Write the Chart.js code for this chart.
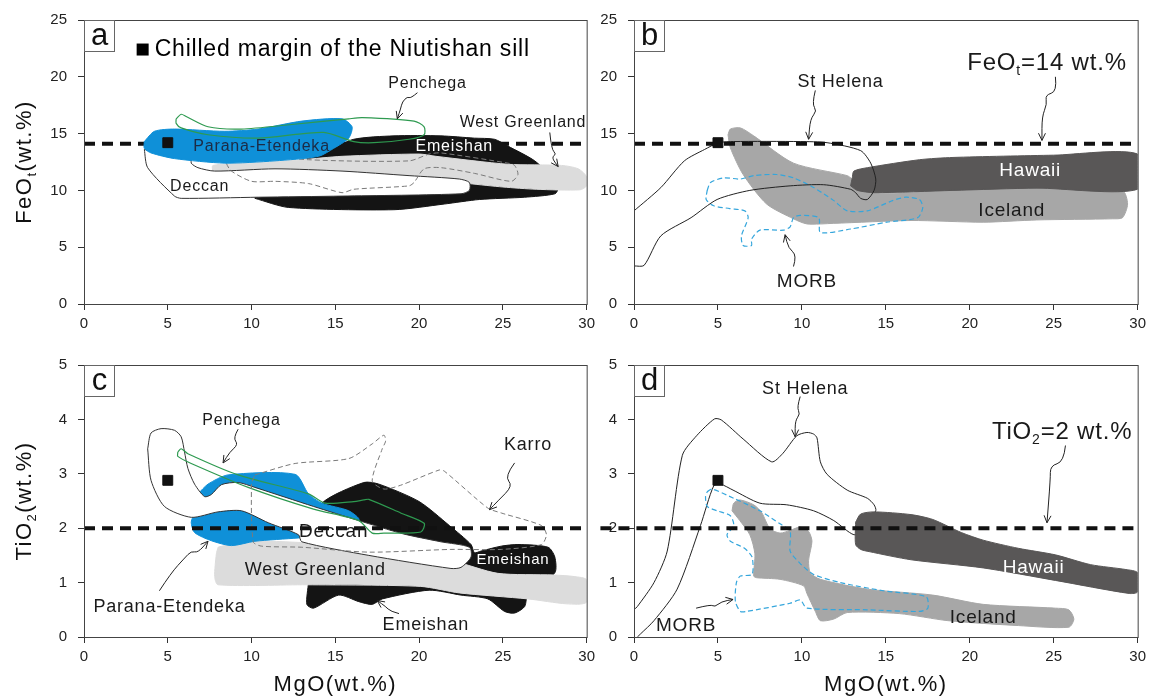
<!DOCTYPE html>
<html>
<head>
<meta charset="utf-8">
<script src="https://cdn.jsdelivr.net/npm/chart.js@4.4.0/dist/chart.umd.min.js"></script>
<style>
  html, body { margin: 0; padding: 0; background: #fff; }
  #wrap { position: relative; width: 1151px; height: 699px; overflow: hidden; }
  canvas { position: absolute; }
</style>
</head>
<body>
<div id="wrap">
  <canvas id="pa" width="600" height="345" style="left:0;top:0"></canvas>
  <canvas id="pb" width="551" height="345" style="left:600px;top:0"></canvas>
  <canvas id="pc" width="600" height="354" style="left:0;top:345px"></canvas>
  <canvas id="pd" width="551" height="354" style="left:600px;top:345px"></canvas>
</div>
<script>
// ---- panel a : FeOt vs MgO ----
const aEmeishan = [[10.2,9.3],[12.2,8.5],[18.5,8.3],[21.5,8.8],[23.6,9.2],[26.3,9.4],[28.1,9.7],[28.3,10.2],[28,11],[26.9,12.6],[25.3,13.9],[24.5,14.5],[23.3,14.6],[21.3,14.8],[18.5,14.8],[16.1,14.5],[14.6,13.5],[12,12],[10.5,10.5],[10.2,9.3]];
const aWestGreenland = [[7.7,11.5],[7.7,12.2],[10,12.4],[13,12.7],[15.4,13.0],[20,13.2],[21,13.0],[25.3,12.3],[28.5,12.2],[29.5,11.9],[30,11.2],[30,10.4],[29.6,10.05],[27,10.1],[25,10.3],[23,10.6],[22,10.8],[15,11.3],[11,11.5],[7.7,11.5]];
const aDeccan = [[3.6,13.6],[3.8,12.0],[5.4,9.5],[5.8,9.3],[10.4,9.4],[15.4,9.5],[22.5,9.7],[23,10.0],[23,10.7],[22.4,11.0],[19.4,11.3],[15.4,11.7],[11.4,11.9],[7.8,11.7],[6.8,12.0],[6.4,12.4],[6.4,13.0],[5,13.3],[3.6,13.6]];
const aKarroo = [[8.6,13.0],[9.0,13.3],[9.4,13.3],[13.4,12.7],[19.4,12.6],[20.6,13.2],[21.3,13.3],[25.3,12.4],[25.7,12.2],[25.9,11.4],[25.5,10.8],[23.3,11.5],[21.3,12.0],[20.3,11.9],[19.7,10.7],[19.4,10.4],[16.1,10.1],[15.4,9.8],[13.4,10.6],[11.4,10.8],[10,10.8],[8.8,11.7],[8.5,12.4],[8.6,13.0]];
const aParana = [[3.6,14.3],[4.2,15.2],[5.4,15.4],[8.4,15.2],[10.4,15.4],[13,16.1],[15.4,16.3],[16,15.6],[15.8,14.6],[14.9,13.7],[14,13.0],[11.4,12.6],[8.4,12.4],[5.4,12.8],[4.0,13.3],[3.6,13.7],[3.6,14.3]];
const aPenchega = [[5.5,16.3],[5.8,16.7],[6.1,16.5],[7.4,15.6],[9.4,15.4],[12.4,15.8],[15.8,16.3],[16.6,16.4],[19.7,16.1],[20.3,15.6],[20.3,14.9],[19.4,14.5],[17.3,14.2],[16.1,14.3],[14.3,15.1],[10.4,14.6],[7.4,14.9],[5.8,15.5],[5.5,15.9],[5.5,16.3]];

// ---- panel b : FeOt vs MgO (oceanic) ----
const bIceland = [[5.6,14.9],[5.74,15.4],[6.34,15.5],[7.13,14.8],[9.5,12.4],[12.7,11.3],[13,11],[14.4,9.8],[18,10],[22.9,10.4],[25,10.2],[29.1,9.96],[29.4,8.8],[29.1,7.6],[28.5,7.5],[24,7.4],[20.8,7.2],[16.5,7.35],[11.9,7.1],[10.3,7.05],[9.5,7.5],[7.9,8.8],[6.5,11.4],[5.74,13.75],[5.6,14.9]];
const bHawaii = [[12.9,10.4],[13.0,11.1],[13.1,11.7],[13.9,12.0],[17.0,12.7],[19,12.9],[25,13.1],[30,13.2],[30,10.1],[24,10.2],[19,10.0],[14.3,9.8],[13.3,10],[12.9,10.4]];
const bMorb = [[4.36,10.0],[4.56,10.7],[5.35,11.1],[6.34,11.0],[7.13,11.3],[8.5,11.4],[9.5,11.1],[10.7,10.25],[11.9,9.1],[12.7,8.2],[13.9,8.2],[15.4,9.1],[16.2,9.4],[17.0,9.2],[17.2,8.5],[16.9,7.6],[15.05,7.2],[12.9,6.6],[11.1,6.3],[11.0,7.6],[9.9,7.8],[9.5,7.6],[9.3,6.8],[8.9,6.5],[7.5,6.5],[7.0,5.7],[7.0,5.15],[6.5,5.15],[6.4,6.0],[6.8,7.6],[6.6,8.2],[5.7,8.4],[4.75,8.65],[4.3,9.2],[4.36,10.0]];
const bStHelena = [[0,8.2],[1.6,10.25],[3.0,12.6],[4.2,13.6],[5.05,14.2],[5.94,14.3],[9.9,14.3],[11.5,14.2],[13.5,13.5],[14.1,12.4],[14.4,11.0],[14.3,10.0],[13.9,9.2],[13.5,9.3],[13.2,9.8],[12.9,10.1],[11.3,10.5],[9.3,10.4],[6.9,10.0],[4.95,9.2],[3.4,7.6],[1.6,6.0],[0.6,3.4],[0,3.35]];

// ---- panel c : TiO2 vs MgO ----
const cEmeishan = [[13.4,1.0],[13.3,0.6],[13.7,0.53],[15.2,0.77],[16.4,0.65],[17.2,0.6],[17.8,0.7],[20.6,0.86],[22.5,0.77],[24.1,0.7],[25.1,0.47],[25.7,0.44],[26.3,0.56],[26.5,0.8],[28.1,1.18],[28.1,1.47],[27.7,1.65],[25.9,1.7],[24.9,1.67],[23.7,1.58],[23.3,1.55],[23.1,1.7],[21.8,2.05],[20,2.49],[17.6,2.81],[16.7,2.84],[14.2,2.46],[14,2.0],[13.5,1.5],[13.4,1.0]];
const cWestGreenland = [[8.0,1.65],[9.2,1.74],[10.1,1.77],[14,1.72],[17.9,1.64],[22,1.4],[24.7,1.17],[28,1.14],[29.3,1.11],[30,1.05],[30,0.64],[28.8,0.61],[26.5,0.7],[22.4,0.81],[20.1,0.93],[13.3,0.96],[8,0.96],[7.8,1.11],[7.9,1.53],[8.0,1.65]];
const cParana = [[6.8,2.63],[7.4,2.81],[8.6,2.98],[12.6,2.99],[13.4,2.63],[14.2,2.46],[15.8,2.32],[16.4,2.15],[14,1.85],[12.8,1.82],[10.2,1.76],[8.8,1.68],[7.6,1.77],[6.6,1.92],[6.4,2.11],[6.6,2.3],[6.6,2.5],[6.8,2.63]];
const cDeccan = [[3.8,3.46],[4.0,3.75],[4.6,3.83],[5.4,3.8],[5.8,3.68],[6.0,3.4],[6.2,3.1],[6.6,2.81],[7.2,2.58],[7.6,2.62],[8.2,2.8],[9.2,2.84],[10.2,2.75],[13.7,2.4],[16.4,2.14],[19,1.9],[21.3,1.75],[23,1.65],[23.1,1.47],[22.5,1.28],[21.9,1.26],[17,1.5],[13,1.75],[12.8,1.88],[11,2.1],[9.4,2.32],[8,2.3],[6.4,2.2],[4.8,2.4],[4.0,2.88],[3.8,3.46]];
const cPenchega = [[5.6,3.4],[5.8,3.46],[6.2,3.37],[9.2,2.98],[13.4,2.63],[14.4,2.46],[16.1,2.49],[16.7,2.52],[17,2.53],[18.9,2.28],[20.3,2.09],[20.1,1.93],[17.9,1.91],[17.2,1.91],[16.4,2.14],[13.7,2.35],[9.8,2.75],[6.4,3.19],[5.6,3.32],[5.6,3.4]];
const cKarroo = [[10.2,2.98],[12.6,3.19],[15.8,3.28],[17.2,3.55],[17.9,3.71],[18.0,3.6],[17.8,3.46],[17.2,2.87],[17.9,2.72],[18.9,2.79],[21.2,3.07],[21.5,3.05],[24.1,2.37],[24.9,2.28],[27.3,2.05],[27.6,1.88],[27.3,1.7],[24.9,1.61],[21.9,1.61],[17,1.56],[13,1.65],[10.6,1.67],[10.1,1.75],[10.0,2.81],[10.2,2.98]];

// ---- panel d : TiO2 vs MgO (oceanic) ----
const dStHelena = [[0,0.5],[0.2,0.56],[1.19,1.0],[1.98,1.58],[2.88,3.34],[3.73,3.7],[4.8,4.01],[5.2,3.99],[6.5,3.64],[8.2,3.22],[8.85,3.37],[9.7,3.7],[10.3,3.76],[10.7,3.73],[10.9,3.66],[11.1,3.22],[11.5,2.99],[12.7,2.7],[13.9,2.55],[14.3,2.43],[14.4,2.32],[13.6,2.0],[13.1,1.88],[11.9,2.14],[10.7,2.32],[9.1,2.43],[7.5,2.46],[5.9,2.7],[5.15,2.81],[4.75,2.78],[3.96,2.05],[2.57,0.88],[1.19,0.3],[0.4,0.06],[0.2,0]];
const dHawaii = [[13.2,2.11],[13.5,2.26],[14.3,2.3],[16.5,2.25],[17.8,2.16],[19.5,1.92],[20.8,1.78],[22.9,1.63],[25.1,1.51],[27.2,1.33],[29.3,1.24],[30,1.18],[30,0.83],[29.5,0.8],[25.1,1.04],[20.8,1.27],[16.5,1.42],[14,1.57],[13.5,1.61],[13.2,1.7],[13.2,2.11]];
const dIceland = [[5.84,2.32],[5.94,2.46],[6.3,2.52],[7.13,2.43],[7.6,2.29],[8.1,1.99],[8.7,1.91],[9.3,1.96],[9.9,2.02],[10.4,1.94],[10.6,1.76],[10.4,1.41],[10.5,1.18],[11.1,1.06],[13.9,0.88],[17.8,0.77],[20.8,0.6],[25.1,0.53],[25.9,0.5],[26.2,0.33],[25.9,0.18],[22.9,0.21],[18.7,0.3],[15.8,0.43],[12.7,0.45],[11.9,0.33],[11.1,0.3],[10.8,0.47],[10.3,0.8],[10.1,0.94],[8.7,1.06],[7.3,1.09],[7.13,1.12],[7.2,1.53],[6.9,1.88],[6.3,2.14],[5.84,2.32]];
const dMorb = [[4.36,2.67],[4.65,2.72],[5.94,2.55],[7.5,2.32],[8.7,2.08],[9.3,1.94],[9.3,1.58],[9.9,1.35],[10.7,1.15],[12.3,1.0],[14.85,0.85],[17.4,0.74],[17.5,0.53],[17.0,0.47],[13.9,0.5],[10.3,0.53],[9.9,0.68],[9.3,0.62],[6.7,0.47],[6.34,0.47],[6.04,0.65],[6.1,1.0],[6.34,1.12],[7.03,1.15],[7.03,1.47],[6.54,1.64],[5.74,1.76],[5.54,1.88],[5.94,2.05],[5.74,2.23],[4.95,2.32],[4.36,2.4],[4.26,2.58],[4.36,2.67]];

// chilled margin of the Niutishan sill, and reference levels
const sillFeO = [[5.0,14.2]];
const sillTiO2 = [[5.0,2.88]];
const feoLevel = [[0,14.1],[30,14.1]];
const tioLevel = [[0,2.0],[30,2.0]];
const tioLevelD = [[-2,2.0],[30,2.0]];

const FONT = "'Liberation Sans', Arial, sans-serif";
const BLUE = '#0f90d8', LIGHT = '#dcdcdc', BLACK = '#141414', MID = '#a7a7a7', DARK = '#595757';
const GREEN = '#2e9a50', MORBC = '#35a6dc', KARC = '#7a7a7a';

function pts(arr) { return arr.map(([x, y]) => ({ x, y })); }

function area(arr, fillColor, line, width) {
  return {
    data: pts(arr), showLine: true, fill: 'shape', backgroundColor: fillColor,
    borderColor: line || fillColor, borderWidth: width || 1, pointRadius: 0, tension: 0.25
  };
}
function outline(arr, color, width, dash) {
  return {
    data: pts(arr), showLine: true, fill: false, borderColor: color,
    borderWidth: width, borderDash: dash || [], pointRadius: 0, tension: 0.25
  };
}
function level(arr) {
  return { data: pts(arr), showLine: true, fill: false, borderColor: '#111', borderWidth: 4,
    borderDash: [11, 7], pointRadius: 0, tension: 0 };
}
function square(arr) {
  return { data: pts(arr), showLine: false, pointStyle: 'rect', pointRadius: 7,
    backgroundColor: '#111', borderColor: '#111', borderWidth: 1 };
}

// draws "FeO_t" style strings: "_" makes the next char a subscript
function drawRich(ctx, str, x, y, size, align) {
  const segs = [];
  for (let i = 0; i < str.length; i++) {
    if (str[i] === '_') { segs.push({ t: str[i + 1], sub: true }); i++; }
    else if (segs.length && !segs[segs.length - 1].sub) segs[segs.length - 1].t += str[i];
    else segs.push({ t: str[i], sub: false });
  }
  const subSize = Math.round(size * 0.6);
  let w = 0;
  segs.forEach(s => {
    ctx.font = (s.sub ? subSize : size) + 'px ' + FONT;
    s.w = ctx.measureText(s.t).width;
    w += s.w;
  });
  let cx = align === 'left' ? x : x - w / 2;
  ctx.textAlign = 'left';
  ctx.textBaseline = 'middle';
  segs.forEach(s => {
    ctx.font = (s.sub ? subSize : size) + 'px ' + FONT;
    ctx.fillText(s.t, cx, s.sub ? y + size * 0.32 : y);
    cx += s.w;
  });
}

function drawArrow(ctx, p) {
  ctx.beginPath();
  ctx.moveTo(p[0][0], p[0][1]);
  for (let i = 1; i < p.length - 1; i++) {
    const mx = (p[i][0] + p[i + 1][0]) / 2, my = (p[i][1] + p[i + 1][1]) / 2;
    ctx.quadraticCurveTo(p[i][0], p[i][1], mx, my);
  }
  const e = p[p.length - 1], b = p[p.length - 2];
  ctx.lineTo(e[0], e[1]);
  ctx.stroke();
  const ang = Math.atan2(e[1] - b[1], e[0] - b[0]);
  ctx.beginPath();
  ctx.moveTo(e[0] - 8 * Math.cos(ang - 0.45), e[1] - 8 * Math.sin(ang - 0.45));
  ctx.lineTo(e[0], e[1]);
  ctx.lineTo(e[0] - 8 * Math.cos(ang + 0.45), e[1] - 8 * Math.sin(ang + 0.45));
  ctx.stroke();
}

const deco = {
  id: 'deco',
  afterDatasetsDraw(chart, args, o) {
    const ctx = chart.ctx, ca = chart.chartArea;
    const sx = chart.scales.x, sy = chart.scales.y;
    const P = (x, y) => [sx.getPixelForValue(x), sy.getPixelForValue(y)];
    ctx.save();
    ctx.letterSpacing = '0.8px';
    // arrows
    ctx.strokeStyle = '#222';
    ctx.lineWidth = 1;
    (o.arrows || []).forEach(a => drawArrow(ctx, a.map(([x, y]) => P(x, y))));
    // labels
    (o.labels || []).forEach(l => {
      const [x, y] = P(l.x, l.y);
      ctx.fillStyle = l.color || '#1a1a1a';
      drawRich(ctx, l.t, x, y, l.size, 'center');
    });
    // legend of panel a
    if (o.legend) {
      const [x, y] = P(o.legend.x, o.legend.y);
      ctx.fillStyle = '#000';
      ctx.fillRect(x - 6, y - 6, 12, 12);
      drawRich(ctx, o.legend.t, x + 12, y, 23, 'left');
    }
    // frame
    ctx.strokeStyle = '#444';
    ctx.lineWidth = 1;
    ctx.strokeRect(ca.left + 0.5, ca.top + 0.5, ca.right - ca.left, ca.bottom - ca.top);
    // panel letter
    ctx.fillStyle = '#fff';
    ctx.fillRect(ca.left + 1, ca.top + 1, 30, 31);
    ctx.strokeStyle = '#666';
    ctx.strokeRect(ca.left + 0.5, ca.top + 0.5, 30, 31);
    ctx.fillStyle = '#111';
    ctx.letterSpacing = '0px';
    ctx.font = '31px ' + FONT;
    ctx.textAlign = 'center';
    ctx.textBaseline = 'middle';
    ctx.fillText(o.letter, ca.left + 15.5, ca.top + 16);
    // axis titles
    ctx.letterSpacing = '1.5px';
    if (o.yTitle) {
      ctx.save();
      ctx.translate(25, (ca.top + ca.bottom) / 2);
      ctx.rotate(-Math.PI / 2);
      drawRich(ctx, o.yTitle, 0, 0, 22, 'center');
      ctx.restore();
    }
    if (o.xTitle) {
      drawRich(ctx, o.xTitle, (ca.left + ca.right) / 2, ca.bottom + 48, 22, 'center');
    }
    ctx.restore();
  }
};

function makePanel(id, sets, ymax, ystep, yW, top, right, xH, extra) {
  const n = sets.length;
  sets.forEach((s, i) => { s.order = n - i; });
  return new Chart(document.getElementById(id), {
    type: 'scatter',
    data: { datasets: sets },
    plugins: [deco],
    options: {
      responsive: false, animation: false, events: [],
      layout: { padding: { left: 0, top: top, right: right, bottom: 0 } },
      plugins: { legend: { display: false }, tooltip: { enabled: false }, deco: extra },
      scales: {
        x: {
          min: 0, max: 30,
          ticks: { stepSize: 5, autoSkip: false, maxRotation: 0, padding: 5, color: '#222', font: { family: FONT, size: 15 } },
          grid: { drawOnChartArea: false, drawTicks: true, tickLength: 6, color: '#333' },
          border: { color: '#333' },
          afterFit: s => { s.height = xH; }
        },
        y: {
          min: 0, max: ymax,
          ticks: { stepSize: ystep, autoSkip: false, padding: 11, color: '#222', font: { family: FONT, size: 15 } },
          grid: { drawOnChartArea: false, drawTicks: true, tickLength: 6, color: '#333' },
          border: { color: '#333' },
          afterFit: s => { s.width = yW; }
        }
      }
    }
  });
}

// panel a: the 14 wt.% line runs behind the fields
makePanel('pa', [
  level(feoLevel),
  area(aEmeishan, BLACK),
  area(aWestGreenland, LIGHT),
  area(aDeccan, '#ffffff', '#333', 1),
  outline(aKarroo, KARC, 1, [5, 3]),
  area(aParana, BLUE),
  outline(aPenchega, GREEN, 1.2),
  square(sillFeO)
], 25, 5, 84, 17, 13, 41, {
  letter: 'a', yTitle: 'FeO_t(wt.%)',
  legend: { x: 3.5, y: 22.4, t: 'Chilled margin of the Niutishan sill' },
  labels: [
    { t: 'Penchega', x: 20.5, y: 19.4, size: 16 },
    { t: 'West Greenland', x: 26.2, y: 16.0, size: 16 },
    { t: 'Parana-Etendeka', x: 10.6, y: 13.9, size: 16, color: '#1c2b45' },
    { t: 'Emeishan', x: 22.1, y: 13.9, size: 16, color: '#ffffff' },
    { t: 'Deccan', x: 6.9, y: 10.3, size: 16 }
  ],
  arrows: [
    [[19.9,18.6],[19.5,18.1],[19.3,18.25],[19.0,17.8],[18.9,17.2],[18.7,16.3]],
    [[27.8,15.1],[27.9,13.6],[28.2,13.2],[27.9,12.9],[28.3,12.1]]
  ]
});

makePanel('pb', [
  area(bIceland, MID),
  area(bHawaii, DARK),
  outline(bMorb, MORBC, 1.2, [5, 3]),
  outline(bStHelena, '#222', 1),
  level(feoLevel),
  square(sillFeO)
], 25, 5, 34, 17, 12, 41, {
  letter: 'b',
  labels: [
    { t: 'St Helena', x: 12.3, y: 19.5, size: 18 },
    { t: 'FeO_t=14 wt.%', x: 24.6, y: 21.2, size: 24 },
    { t: 'Hawaii', x: 23.6, y: 11.7, size: 19, color: '#ffffff' },
    { t: 'Iceland', x: 22.5, y: 8.2, size: 19 },
    { t: 'MORB', x: 10.3, y: 2.0, size: 19 }
  ],
  arrows: [
    [[10.8,18.8],[10.6,17.6],[10.9,17.0],[10.5,16.3],[10.4,14.5]],
    [[25.1,20.0],[25.2,18.7],[24.5,18.4],[24.6,17.6],[24.3,16.5],[24.3,14.4]],
    [[9.5,3.3],[9.7,4.3],[9.2,4.9],[9.0,6.1]]
  ]
});

makePanel('pc', [
  area(cEmeishan, BLACK),
  area(cWestGreenland, LIGHT),
  area(cParana, BLUE),
  area(cDeccan, '#ffffff', '#333', 1),
  outline(cPenchega, GREEN, 1.2),
  outline(cKarroo, KARC, 1, [5, 3]),
  level(tioLevel),
  square(sillTiO2)
], 5, 1, 84, 8, 13, 62, {
  letter: 'c', yTitle: 'TiO_2(wt.%)', xTitle: 'MgO(wt.%)',
  labels: [
    { t: 'Penchega', x: 9.4, y: 3.98, size: 16 },
    { t: 'Karro', x: 26.5, y: 3.53, size: 18 },
    { t: 'Deccan', x: 14.9, y: 1.94, size: 19 },
    { t: 'West Greenland', x: 13.8, y: 1.23, size: 18 },
    { t: 'Emeishan', x: 25.6, y: 1.41, size: 15, color: '#ffffff' },
    { t: 'Parana-Etendeka', x: 5.1, y: 0.55, size: 18 },
    { t: 'Emeishan', x: 20.4, y: 0.22, size: 18 }
  ],
  arrows: [
    [[9.2,3.82],[8.9,3.66],[9.2,3.54],[8.7,3.4],[8.3,3.2]],
    [[25.7,3.2],[25.1,2.95],[25.6,2.78],[24.7,2.5],[24.2,2.34]],
    [[4.5,0.85],[5.2,1.18],[6.0,1.45],[6.4,1.58],[6.8,1.55],[7.4,1.76]],
    [[18.8,0.43],[18.3,0.47],[18.0,0.56],[17.5,0.67]]
  ]
});

const dLevel = level(tioLevelD);
dLevel.clip = { left: 40, top: 0, right: 0, bottom: 0 };
makePanel('pd', [
  outline(dStHelena, '#222', 1),
  area(dHawaii, DARK),
  area(dIceland, MID),
  outline(dMorb, MORBC, 1.2, [5, 3]),
  dLevel,
  square(sillTiO2)
], 5, 1, 34, 8, 12, 62, {
  letter: 'd', xTitle: 'MgO(wt.%)',
  labels: [
    { t: 'St Helena', x: 10.2, y: 4.55, size: 18 },
    { t: 'TiO_2=2 wt.%', x: 25.5, y: 3.76, size: 24 },
    { t: 'Hawaii', x: 23.8, y: 1.27, size: 19, color: '#ffffff' },
    { t: 'Iceland', x: 20.8, y: 0.36, size: 19 },
    { t: 'MORB', x: 3.1, y: 0.2, size: 19 }
  ],
  arrows: [
    [[9.9,4.42],[9.7,4.22],[9.9,4.1],[9.6,3.98],[9.6,3.68]],
    [[25.7,3.52],[25.6,3.22],[24.8,3.15],[24.8,2.9],[24.6,2.1]],
    [[3.7,0.53],[4.6,0.6],[4.8,0.55],[5.2,0.65],[5.9,0.69]]
  ]
});
</script>
</body>
</html>
